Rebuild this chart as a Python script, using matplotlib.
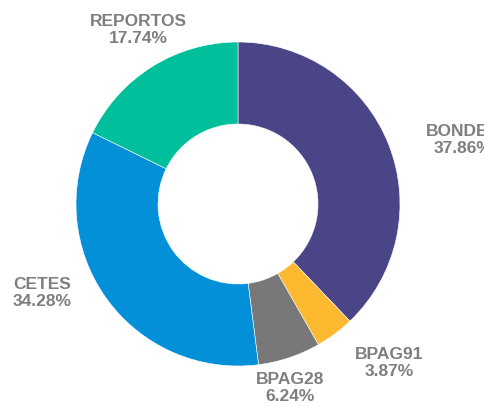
import matplotlib.pyplot as plt

labels = ["BONDES", "BPAG91", "BPAG28", "CETES", "REPORTOS"]
shares = [37.86, 3.87, 6.24, 34.28, 17.74]
colors = ["#4A4586", "#FDB92F", "#787878", "#0390D9", "#00BF9B"]

# label anchor points (pixel coords, origin bottom-left)
label_pos = [(463, 263), (389, 40), (290, 15), (42, 110), (138, 373)]

fig = plt.figure(figsize=(4.84, 4.03), dpi=100)
ax = fig.add_axes([0, 0, 1, 1])

ax.pie(shares, colors=colors, startangle=90, counterclock=False,
       center=(238, 199), radius=162, frame=True,
       wedgeprops=dict(width=82, edgecolor="white", linewidth=0.4))
ax.set_xlim(0, 484)
ax.set_ylim(0, 403)
ax.set_aspect("equal")
ax.axis("off")

for name, val, (x, y) in zip(labels, shares, label_pos):
    ax.text(x, y, f"{name}\n{val:.2f}%", ha="center", va="center",
            fontsize=12.5, fontweight="bold", color="#7F7F7F",
            family="Liberation Sans", linespacing=1.1, clip_on=False)

fig.savefig("out.png", dpi=100)
